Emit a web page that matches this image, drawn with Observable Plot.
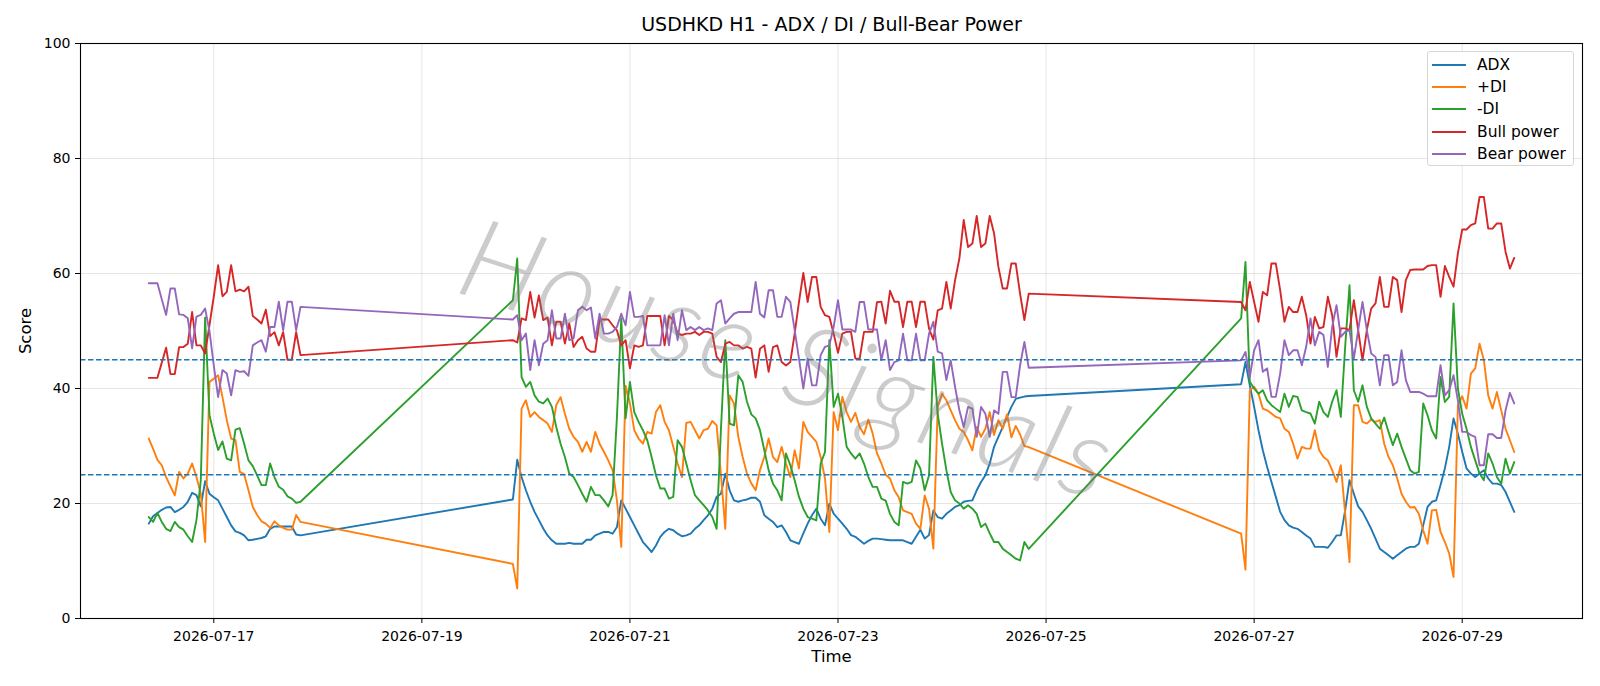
<!DOCTYPE html>
<html>
<head>
<meta charset="utf-8">
<script src="https://cdn.jsdelivr.net/npm/d3@7"></script>
<script src="https://cdn.jsdelivr.net/npm/@observablehq/plot@0.6"></script>
<style>
  html, body { margin: 0; padding: 0; background: #fff; }
  #wrap { position: relative; width: 1600px; height: 686px; font-family: "DejaVu Sans", sans-serif; }
  #legend { position: absolute; left: 1427px; top: 51px; width: 147px; height: 115px; box-sizing: border-box;
            border: 1px solid #d6d6d6; border-radius: 3px; background: rgba(255,255,255,0.85); font-size: 15.5px; }
  .lrow { position: absolute; left: 0; height: 20px; display: flex; align-items: center; white-space: nowrap; }
  .lsw { display: inline-block; width: 34px; height: 2px; margin-left: 4px; margin-right: 11px; }
  #wm { position: absolute; left: 790px; top: 355px; transform: translate(-50%, -50%) rotate(18deg);
        font-size: 112px; letter-spacing: 4px; font-style: italic; font-weight: 300; color: rgba(120,120,120,0.38);
        white-space: nowrap; pointer-events: none; font-family: "Lato", "DejaVu Sans", sans-serif; }
</style>
</head>
<body>
<div id="wrap"></div>
<script>
// ---- data (hourly, three trading segments) ----
const titleText = "USDHKD H1 - ADX / DI / Bull-Bear Power";
const xLabel = "Time";
const yLabel = "Score";
const watermarkText = "House Signals";
const seriesNames = ["ADX", "+DI", "-DI", "Bull power", "Bear power"];
const seriesColors = ["#1f77b4", "#ff7f0e", "#2ca02c", "#d62728", "#9467bd"];
const segmentStarts = ["2026-07-16T09:00:00Z", "2026-07-19T21:00:00Z", "2026-07-26T21:00:00Z"];
const xTickDates = ["2026-07-17", "2026-07-19", "2026-07-21", "2026-07-23", "2026-07-25", "2026-07-27", "2026-07-29"];
const yTickValues = [0, 20, 40, 60, 80, 100];
const thresholdLevels = [25, 45];

const adx1 = [16.5,17.8,18.35,18.9,19.3,19.4,18.5,18.9,19.4,20.3,21.85,21.45,19.5,23.9,21.7,21.1,20.55,19.1,17.65,16.2,15.15,14.9,14.45,13.6,13.7,13.85,14,14.3,15.6,16,16,16,16,16,14.6,14.45];
const pdi1 = [31.3,29.5,27.6,26.65,24.6,23,21.4,25.5,24.35,25.2,26.95,24.6,21.7,13.3,41.15,41.7,42.3,38.5,34.5,31.3,31,25.5,25.1,22.3,19.4,18,16.9,16.5,15.75,16.9,16.2,15.75,15.45,15.45,18,16.8];
const mdi1 = [17.65,16.8,18.35,16.8,15.6,15.2,16.8,15.9,15.45,14.3,13.3,17.1,24,52.35,35.35,32.15,29.3,30.8,27.8,27.5,32.85,33.1,30.4,27.5,26.5,24.9,23.2,23.2,26.95,24.6,22.9,22.4,21.25,20.85,20.1,20.3];
const bull1 = [41.85,41.85,41.85,44.5,47.1,42.5,42.5,47.2,47.2,47.8,53.3,47.5,47.5,46.1,51,56,61.45,56.05,56.8,61.45,56.9,57.2,56.9,57.7,52.6,52,51.3,53.7,49.1,49.8,47.5,49.8,45,45,49.8,45.8];
const bear1 = [58.3,58.3,58.3,55.5,52.8,57.4,57.4,52.9,52.8,52.2,47,52.5,52.8,53.9,50,44,38.5,43.2,42.6,38.8,43.2,42.9,43,42.2,47.5,48,48.4,46.4,50.7,50.7,55.1,50.1,55.1,55.1,50.1,54.2];

const adx2 = [20.7,27.6,24.6,22.3,20.3,18.55,17.1,15.65,14.45,13.6,
  13,13,13,13.15,13,13,13,13.7,13.7,14.45,
  14.75,15.05,15.05,14.75,15.9,20.55,19.1,17.65,16.2,14.75,
  13.3,12.45,11.55,12.7,14.2,15.05,15.6,15.35,14.75,14.3,
  14.45,14.75,15.6,16.2,17.1,17.95,19.1,21.15,21.7,25.2,
  22.3,20.55,20.3,20.55,20.7,21,21,20.3,17.95,17.35,
  16.8,15.9,16.2,15.05,13.6,13.3,13,14.8,16.5,17.95,
  19.1,17.35,16.2,19.95,18.25,17.35,16.5,15.6,14.5,14.2,
  13.6,13,13.5,13.9,13.9,13.8,13.7,13.6,13.6,13.6,
  13.6,13.3,13,14.2,15.45,13.9,14.5,18.8,17.65,17.35,
  18.2,18.8,19.4,19.7,20.3,20.45,20.55,22.3,23.75,24.9,
  26.95,29.85,31.6,33.3,35.05,36.8,38.2,38.4,38.6,38.7];
const pdi2 = [9.5,5.2,36.5,37.95,35.05,35.9,35.05,34.5,33.9,32.45,
  37.1,38.5,35.6,33,31.6,30.7,29,30.7,29,32.45,
  30.4,29,27.5,25.8,20.55,12.45,40.5,37.4,32.75,31.3,
  30.4,32.45,32.15,35.9,37.1,34.2,32.75,29.85,26.95,24.6,
  34,34.2,32.75,31.3,32.75,33,34.35,33.6,25,15.6,
  38.8,37.4,31.6,28.1,25.2,23.5,22.3,25.8,28.1,31.3,
  28.1,27.2,29.85,26.95,24.6,29.25,26.1,34.2,32.45,31.6,
  30.7,28.1,24.35,15.05,35.9,32.75,38.55,35.9,34.2,35.75,
  33.3,32.05,34.6,32.15,28.7,27,25,24.35,22.3,21.1,
  18.8,18.5,18.2,16.5,15.6,21.4,19.1,12.15,36.8,39.1,
  37.95,36.2,34.5,33,32.45,31,29.25,33.3,31.6,33,
  35.9,31.9,34.5,33,35.5,31.5,33.5,32,30,29.8];
const mdi2 = [55.35,62.6,42,40.3,41.15,38.8,37.7,37.4,38.25,36.8,
  33.3,30.4,28.1,25.2,24.6,23.2,21.7,20.3,22.9,21.45,
  21.45,20.55,19.5,21.45,35,52.2,34.8,41.15,35.9,34.2,
  32.75,31,28.1,24.9,22.6,22.6,20.85,21.15,31,29.85,
  26.95,24.05,21.45,20.55,19.7,18.8,17.65,15.6,33,48.4,
  33.9,33.6,42.3,41.15,37.7,35.5,34.8,32.75,29.25,25.8,
  23.45,22.3,20.55,28.7,26.65,24.05,21.15,19.1,17.65,17.35,
  17.05,26.95,28.95,48.4,36.8,39.1,35.05,29.85,28.7,27.8,
  28.7,26.95,24.6,22.9,22.9,20.85,20.5,18.2,16.8,16.2,
  23.75,23.45,23.75,27.5,26.1,22.3,24.9,45.5,35.6,30.4,
  25.8,22,20.55,20,19.1,19.7,19.1,18.2,15.9,16.5,
  14.8,13.3,13.3,12.15,11.55,11,10.4,10.1,13.3,12.1];
const bull2 = [48.4,48,52.2,51.9,56.8,52.35,56.2,51.9,52.35,47.5,
  51.6,51.6,47.8,51.3,47.2,48.4,49,46.95,46.4,46.4,
  52,52,52,51,50.1,47.5,48.4,43.5,47.5,47.25,
  47.5,52.6,52.6,52.6,52.6,47.5,52.6,51.9,49.55,49.3,
  49.55,49.55,49.85,49.3,49.85,49.85,49.55,45.5,44.6,47.8,
  48.1,47.5,47.5,46.95,47.25,46.95,41.9,46.9,47.5,42.9,
  47.2,47.5,44.6,44,44.6,49.55,55.05,60.1,55.05,59.4,
  59.4,54.2,52.75,52.45,49.55,46.2,49.55,49.85,49.85,45.2,
  45.2,49.85,49.85,49.85,55,55.1,51.3,57,55.1,55.1,
  50.7,55.1,55.1,50.7,55.1,55.1,50.4,48.5,53.6,53.9,
  58.55,53.9,58.8,62.6,69.3,64.6,65.2,70,64.6,65.2,
  70,67,61.15,57.4,57.4,61.75,61.75,56.5,51.9,56.5];
const bear2 = [52,52.75,48.4,49.55,43.2,48.4,44.05,47.8,48.4,53.6,
  48.7,48.7,53,48.4,48.7,53.6,54.2,53.6,54.1,48.7,
  53,49.55,49.55,49.85,50.7,53,51,56.8,52.45,52.45,
  52.6,47.5,47.5,47.5,47.5,52.75,47.5,53,48.4,53.6,
  50.15,50.7,50.15,50.7,50.15,50.45,50.15,54.8,55.35,51.3,
  52.2,53,53.3,53.3,53.3,53.3,58.55,53,52.35,57.1,
  57.1,52.45,52.45,55.95,55.05,50.15,45.2,40,45.2,40.55,
  40.55,45.8,47.25,47.5,50.7,55.35,50.25,50.25,50.25,49.85,
  55.05,55.05,50.25,50.25,50.25,44.9,48.4,43.2,44.6,44.9,
  49.55,44.9,44.9,49.55,44.9,44.9,49.55,51.6,46.4,46.1,
  41.45,44.9,40.3,36.2,33.3,36.8,36.5,31.6,36.8,35.6,
  31.6,36.2,35.6,42.9,42.9,38.5,38.5,44,48.1,43.6];

const adx3 = [40.75,44.6,40.55,36.8,32.75,29.25,26.35,23.75,21.15,18.55,
  17.1,16.2,15.8,15.6,15.05,14.45,13.9,12.45,12.45,12.45,
  12.3,13.3,14.45,14.45,18.8,24.05,21.7,19.5,18.55,17.1,
  15.6,13.9,12.15,11.55,11,10.4,11,11.55,12.15,12.45,
  12.45,13,16.2,19.4,20.3,20.55,23.2,26.1,29.85,34.8,
  32.15,29,26.1,25.2,24.6,25.2,25.8,24.35,23.45,23.45,
  23.2,22,20.3,18.55];
const pdi3 = [14.75,8.5,39.7,40.3,39.1,36.5,36.2,35.65,35.05,34.8,
  33,32.45,30.4,27.8,29.85,29.55,29.55,32.75,29.25,28.1,
  27.5,25.8,23.75,26.65,18.25,9.8,37.1,37.1,34.2,33.9,
  34.6,34.2,34.5,30.4,28.1,26.65,24.35,21.7,20.3,19.3,
  19.4,18.2,15.35,13,18.8,18.9,15.05,13.3,11.3,7.2,
  37,38.65,36.5,42.6,43.5,47.8,44.9,38.8,36.5,39.4,
  36.2,33,31,28.95];
const mdi3 = [52.2,62,41.15,40,39.1,39.7,37.95,37.1,36.5,35.9,
  39.1,36.8,38.7,38.55,36.2,35.9,35.65,33.9,37.7,35.9,
  35.05,37.7,39.7,35.05,47.25,57.95,39.7,37.7,40.55,36.8,
  34.8,33.9,33,34.95,32.45,30.15,32.15,29.85,27.8,25.8,
  25.2,25.5,37.4,35.35,32.75,31.3,42,37.65,38.55,54.8,
  40,35.6,33,29.85,27.5,25.2,24.05,28.7,26.95,24.6,
  23.45,27.8,25.2,27.2];
const bull3 = [55.05,53.6,58.55,55.05,51.6,56.8,56.2,61.75,61.75,57.1,
  51.6,54.2,53.3,53.3,55.95,52.75,47.8,52.45,50.45,50.7,
  55.95,52.75,45.5,50.45,50.45,50.15,55.35,50.15,44.9,50.15,
  53.9,54.8,59.4,54.2,54.2,59.4,58.85,53.3,58.85,60.6,
  60.7,60.7,60.7,61.3,61.45,61.45,55.95,61.3,59.4,57.7,
  63.5,67.65,67.65,68.4,68.7,73.3,73.3,67.8,67.8,68.7,
  68.7,63.75,60.85,62.7];
const bear3 = [44.9,46.35,42,46.65,48.4,42.9,43.5,38.55,38.55,42.6,
  48.4,45.8,46.65,46.65,44.05,47.25,52.2,47.5,49.85,49.3,
  43.75,50.7,54.5,49,49.85,50.15,45.2,50.15,55.05,50.15,
  46.1,45.5,40.55,45.8,45.8,40.55,41.15,46.65,41.45,39.4,
  39.4,39.4,39.1,38.65,38.65,38.65,44.05,38.8,39.7,42.3,
  37.95,32.45,32.45,31.9,31.6,26.65,26.65,32.05,32.05,31.4,
  31.4,36.2,39.25,37.4];

const seriesSegments = [
  [adx1, adx2, adx3],
  [pdi1, pdi2, pdi3],
  [mdi1, mdi2, mdi3],
  [bull1, bull2, bull3],
  [bear1, bear2, bear3]
];

// ---- build tidy rows ----
function rowsFor(segs, name) {
  const out = [];
  segs.forEach((vals, s) => {
    const t0 = Date.parse(segmentStarts[s]);
    vals.forEach((v, i) => out.push({time: new Date(t0 + i * 3600000), value: v, series: name}));
  });
  return out;
}
const seriesRows = seriesNames.map((n, k) => rowsFor(seriesSegments[k], n));
const xTicks = xTickDates.map(d => new Date(d + "T00:00:00Z"));

const W = 1600, H = 686;
const mL = 80, mR = 18, mT = 43, mB = 68;

const lineMarks = seriesRows.map((rows, k) =>
  Plot.line(rows, {x: "time", y: "value", stroke: seriesColors[k], strokeWidth: 1.9, curve: "linear"}));

const chart = Plot.plot({
  width: W, height: H,
  marginLeft: mL, marginRight: mR, marginTop: mT, marginBottom: mB,
  style: {background: "white", fontFamily: "DejaVu Sans, sans-serif", fontSize: "14px", color: "black", overflow: "visible"},
  x: {type: "utc", domain: [new Date("2026-07-15T17:15:00Z"), new Date("2026-07-30T03:45:00Z")]},
  y: {domain: [0, 100]},
  marks: [
    Plot.gridY(yTickValues, {stroke: "#000", strokeOpacity: 0.1, strokeWidth: 1}),
    Plot.gridX(xTicks, {stroke: "#000", strokeOpacity: 0.1, strokeWidth: 1}),
    ...lineMarks,
    Plot.ruleY(thresholdLevels, {stroke: "#1f77b4", strokeWidth: 1.3, strokeDasharray: "5.5,2.5"}),
    Plot.frame({stroke: "#000", strokeWidth: 1.1}),
    Plot.axisY(yTickValues, {tickSize: 5, tickPadding: 5, label: null, fontSize: 14}),
    Plot.axisX(xTicks, {tickSize: 5, tickPadding: 8, label: null, fontSize: 14, tickFormat: d3.utcFormat("%Y-%m-%d")}),
    Plot.text([titleText], {text: d => d, frameAnchor: "top", lineAnchor: "middle", textAnchor: "middle", dy: -19, fontSize: 19, fill: "black"}),
    Plot.text([xLabel], {text: d => d, frameAnchor: "bottom", lineAnchor: "middle", textAnchor: "middle", dy: 38, fontSize: 16.5, fill: "black"}),
    Plot.text([yLabel], {text: d => d, frameAnchor: "left", lineAnchor: "middle", textAnchor: "middle", dx: -55, rotate: -90, fontSize: 16.5, fill: "black"})
  ]
});

const wrap = document.getElementById("wrap");
wrap.appendChild(chart);

// watermark
const wm = document.createElement("div");
wm.id = "wm";
wm.textContent = watermarkText;
wrap.appendChild(wm);

// legend
const legend = document.createElement("div");
legend.id = "legend";
seriesNames.forEach((n, k) => {
  const row = document.createElement("div");
  row.className = "lrow";
  row.style.top = (2.5 + k * 22.4) + "px";
  const sw = document.createElement("span");
  sw.className = "lsw";
  sw.style.background = seriesColors[k];
  const tx = document.createElement("span");
  tx.textContent = n;
  row.appendChild(sw); row.appendChild(tx);
  legend.appendChild(row);
});
wrap.appendChild(legend);
</script>
</body>
</html>
